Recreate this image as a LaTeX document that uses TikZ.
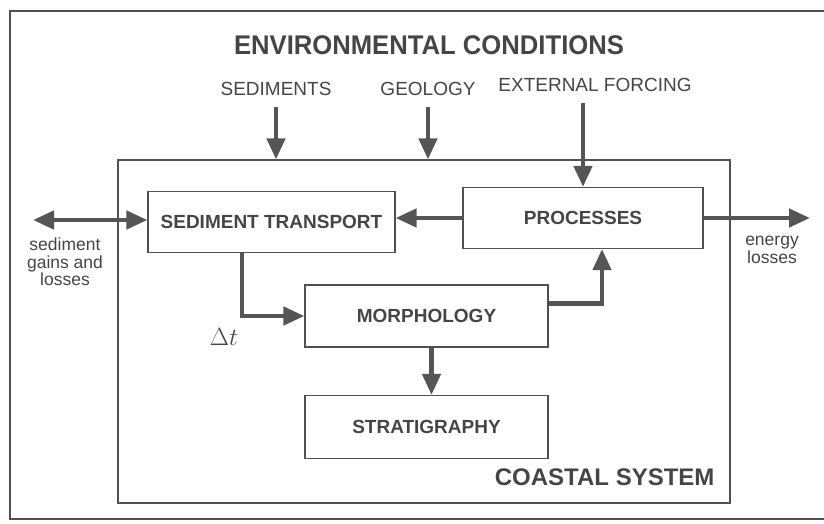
\documentclass[tikz,border=0pt]{standalone}
\usepackage{fontspec}
\setmainfont{Liberation Sans}
\newfontfamily\titlefont[FakeStretch=0.95]{Liberation Sans}
\usetikzlibrary{arrows.meta,positioning}
\definecolor{ink}{HTML}{454545}
\definecolor{linegray}{HTML}{505050}
\definecolor{arrowgray}{HTML}{555555}

\begin{document}
\begin{tikzpicture}[
  x=1pt, y=-1pt,
  box/.style={
    draw=linegray,
    line width=1.2pt,
    minimum width=243pt,
    minimum height=61pt,
    text=ink,
    font=\fontsize{19}{22}\selectfont\bfseries
  },
  frame/.style={draw=linegray, line width=1.2pt},
  lab/.style={text=ink, font=\fontsize{19}{22}\selectfont},
  note/.style={text=ink, align=center, font=\fontsize{17.5}{17.5}\selectfont},
  flow/.style={draw=arrowgray, line width=4.5pt, -{Triangle[length=21pt,width=18pt]}},
  both/.style={flow, {Triangle[length=21pt,width=18pt]}-{Triangle[length=21pt,width=18pt]}}
]
  \useasboundingbox (0,0) rectangle (824,523);
  \draw[frame] (824,11) -| (10,519) -- (824,519);

  \node[frame, minimum width=612pt, minimum height=343pt] (coast) at (424,331.5) {};

  \node[text=ink, font=\titlefont\fontsize{27}{27}\selectfont\bfseries] (env) at (429,45) {ENVIRONMENTAL CONDITIONS};
  \node[lab] (sed) at (276,89) {SEDIMENTS};
  \node[lab] (geo) at (428,89) {GEOLOGY};
  \node[lab] (ext) at (595,85) {EXTERNAL FORCING};

  \node[box, minimum width=247pt] (st)    at (271.5,222) {SEDIMENT TRANSPORT};
  \node[box, minimum width=240pt] (proc)  at (583,218)   {PROCESSES};
  \node[box, minimum height=62pt] (morph) at (426.5,316) {MORPHOLOGY};
  \node[box, minimum height=63pt] (strat) at (426.5,427) {STRATIGRAPHY};

  \node[note] (gains)  at (65,262)  {sediment\\gains and\\losses};
  \node[note] (energy) at (772,250) {energy\\losses};
  \node[text=ink, font=\fontsize{23}{23}\selectfont] (dt) at (224,337) {$\Delta t$};
  \node[anchor=east, text=ink, font=\fontsize{24}{24}\selectfont\bfseries] (cs) at (718,477) {COASTAL SYSTEM};

  \coordinate (gl) at (33,220);
  \coordinate (el) at (810,216);

  \draw[flow, shorten <=8pt] (sed.south) -- (sed.south |- coast.north);
  \draw[flow, shorten <=8pt] (geo.south) -- (geo.south |- coast.north);
  \draw[flow, shorten <=8pt] (proc.north |- ext.south) -- (proc.north);
  \draw[flow] (proc.west) -- (proc.west -| st.east);
  \draw[both] (gl) -- (gl -| st.west);
  \draw[flow] (proc.east) -- (proc.east -| el);
  \draw[flow] ([xshift=-29.5pt]st.south) |- (morph.west);
  \draw[flow] ([yshift=12.5pt]morph.east) -| ([xshift=19pt]proc.south);
  \draw[flow] ([xshift=5pt]morph.south) -- ([xshift=5pt]strat.north);
\end{tikzpicture}
\end{document}
